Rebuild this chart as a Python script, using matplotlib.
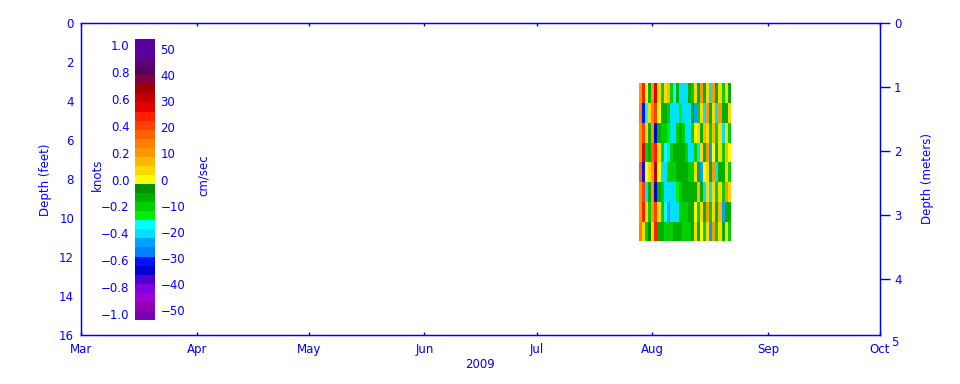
import numpy as np
import matplotlib
matplotlib.use("Agg")
import matplotlib.pyplot as plt
import matplotlib.dates as mdates
from matplotlib.colors import ListedColormap, BoundaryNorm
from matplotlib.transforms import blended_transform_factory
import datetime as dt

# ---------------- data ----------------
months = ["Mar", "Apr", "May", "Jun", "Jul", "Aug", "Sep", "Oct"]
month_starts = [dt.datetime(2009, m, 1) for m in range(3, 11)]
year_label = "2009"

# velocity record (cm/s), rows = depth bins top->bottom, cols = time bins
t_start = dt.datetime(2009, 7, 28, 12)
t_end = dt.datetime(2009, 8, 22, 0)
depth_top_ft = 3.1
depth_bot_ft = 11.2
vel = [
    [12, 25, 0, -8, 12, 28, 2, -10, 3, 8, -12, -18, -8, -20, -22, -20, -8, -10, 2, -8, 10, -8, 5, -20, 12, -8, 3, -10, 5, -8],
    [15, -30, -18, 3, 14, 22, 0, -8, -8, -10, -20, -22, -20, -14, -20, -22, -20, -8, -25, -10, 3, -20, 10, -8, 3, -22, 10, -8, -8, 2],
    [10, 20, 3, -8, 10, -35, -8, -10, -12, -14, -22, -20, -12, -8, -12, -20, -22, -12, 0, 5, -8, 8, 2, -10, 8, -10, 2, -20, 3, -10],
    [12, 28, -12, -6, 16, 25, 3, -12, -18, -20, -10, -8, -6, -6, -8, -12, -20, -22, -10, -20, 2, -8, 12, -25, 0, -8, 5, -10, 8, 0],
    [18, -32, 0, 3, 12, 30, 0, -22, -22, -10, -12, -10, -8, -8, -6, -8, -12, -10, 5, -8, -25, 0, 3, -8, 10, -20, -8, -8, 2, -10],
    [12, 22, -20, -8, 12, -35, -8, -12, -20, -22, -20, -22, -14, -10, -8, -8, -8, -8, -8, 8, -8, -20, 5, -20, 2, -10, 2, -10, 10, 3],
    [10, 25, 2, -10, 10, 20, 2, -10, -18, -24, -22, -20, -20, -12, -10, -10, -8, -6, 0, -12, 5, -8, 10, -12, 5, -8, 8, -25, -8, -8],
    [14, 5, -10, -5, 3, 25, -8, -8, -10, -12, -10, -8, -6, -8, -10, -10, -12, -8, 3, -8, 0, -10, 2, -25, 12, -10, 3, -8, 2, -10],
]

# colour table, most negative -> most positive
level_colors = [
    "#7a00b8", "#9000b0", "#a000d8", "#8000e0", "#5000d0", "#0000d0", "#0010ff",
    "#0080ff", "#00a0ff", "#00e0ff", "#00ffff", "#00f000", "#00d000", "#00b000",
    "#009000", "#ffff00", "#ffd800", "#ffb800", "#ff9800", "#ff8000", "#ff6000",
    "#ff4000", "#ff2000", "#e00000", "#c00000", "#a00000", "#800040", "#580060",
    "#600080", "#5a00a0", "#5a00a0",
]
vmax_cms = 53.7
cms_ticks = [-50, -40, -30, -20, -10, 0, 10, 20, 30, 40, 50]
knot_ticks = [-1.0, -0.8, -0.6, -0.4, -0.2, 0.0, 0.2, 0.4, 0.6, 0.8, 1.0]
CMS_PER_KNOT = 51.444
FT_PER_M = 3.28084

BLUE = "#0000ff"
plt.rcParams["font.family"] = "DejaVu Sans"
plt.rcParams["font.size"] = 8.5
plt.rcParams["text.color"] = BLUE
plt.rcParams["axes.edgecolor"] = BLUE
plt.rcParams["xtick.color"] = BLUE
plt.rcParams["ytick.color"] = BLUE
plt.rcParams["axes.labelcolor"] = BLUE

fig = plt.figure(figsize=(9.6, 3.84), dpi=100)
ax = fig.add_axes([81 / 960, 49 / 384, 799 / 960, 312 / 384])

cmap = ListedColormap(level_colors)
bounds = np.linspace(-vmax_cms, vmax_cms, len(level_colors) + 1)
norm = BoundaryNorm(bounds, cmap.N)

V = np.array(vel, dtype=float)
xe = np.linspace(mdates.date2num(t_start), mdates.date2num(t_end), V.shape[1] + 1)
ye = np.linspace(depth_top_ft, depth_bot_ft, V.shape[0] + 1)
ax.pcolormesh(xe, ye, V, cmap=cmap, norm=norm, shading="flat")

ax.set_xlim(mdates.date2num(month_starts[0]), mdates.date2num(month_starts[-1]))
ax.set_ylim(16, 0)
ax.set_xticks(mdates.date2num(month_starts))
ax.set_xticklabels(months)
ax.tick_params(axis="x", direction="in", length=2, width=1, pad=6, top=True)
ax.set_yticks(range(0, 17, 2))
ax.tick_params(axis="y", length=0, pad=5)
ax.set_xlabel(year_label, labelpad=1)
for s in ax.spines.values():
    s.set_linewidth(1)

fig.text(45 / 960, 1 - 180 / 384, "Depth (feet)", rotation=90, ha="center", va="center")

# right axis in meters
ax2 = ax.twinx()
ax2.set_ylim(16 / FT_PER_M, 0)
ax2.set_yticks([0, 1, 2, 3, 4])
ax2.tick_params(axis="y", direction="out", length=7, width=1, pad=3)
ax2.set_ylabel("Depth (meters)", labelpad=14)
tr = blended_transform_factory(ax2.transAxes, ax2.transData)
ax2.annotate("5", xy=(1.0, 5.0), xycoords=tr, xytext=(8, 0), textcoords="offset points",
             ha="left", va="center", annotation_clip=False, color=BLUE, fontsize=8.5)

# colorbar inside the plot
cax = fig.add_axes([135 / 960, 64 / 384, 20 / 960, 281 / 384])
sm = matplotlib.cm.ScalarMappable(norm=norm, cmap=cmap)
cb = fig.colorbar(sm, cax=cax, ticks=cms_ticks, spacing="proportional")
cb.outline.set_visible(False)
cb.minorticks_off()
cax.tick_params(axis="y", which="both", length=0, pad=4)

kax = cax.secondary_yaxis("left", functions=(lambda c: c / CMS_PER_KNOT,
                                              lambda k: k * CMS_PER_KNOT))
kax.set_yticks(knot_ticks)
kax.set_yticklabels([f"{k:.1f}".replace("-", "\u2212") for k in knot_ticks])
kax.tick_params(axis="y", which="both", length=0, pad=4, colors=BLUE)
kax.spines["left"].set_visible(False)

fig.text(97 / 960, 1 - 175 / 384, "knots", rotation=90, ha="center", va="center")
fig.text(203 / 960, 1 - 175 / 384, "cm/sec", rotation=90, ha="center", va="center")

fig.savefig("out.png", dpi=100)
